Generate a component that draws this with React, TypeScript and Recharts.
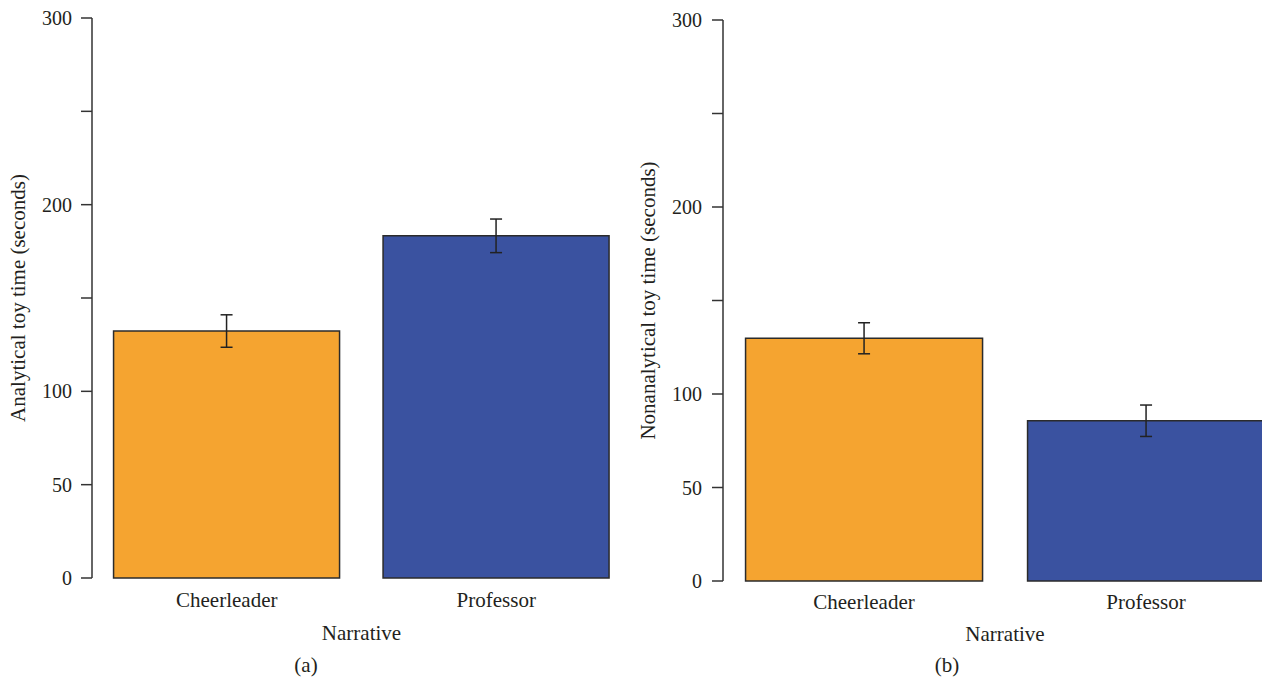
import React from 'react';
import { BarChart, Bar, XAxis, YAxis, ErrorBar, Cell } from 'recharts';

const categories = ['Cheerleader', 'Professor'];
const analyticalMeans = [132.3, 183.3];
const analyticalErrors = [8.7, 9.0];
const nonanalyticalMeans = [129.8, 85.7];
const nonanalyticalErrors = [8.3, 8.4];
const yTicks = [0, 50, 100, 150, 200, 250, 300];
const labelledTicks = [0, 50, 100, 200, 300];
const barColors = ['#F5A430', '#3A52A0'];

const FONT = '"Liberation Serif", "DejaVu Serif", serif';
const TEXT = '#231F20';
const AXIS = '#333333';

const analyticalData = categories.map((c, i) => ({ name: c, value: analyticalMeans[i], err: analyticalErrors[i] }));
const nonanalyticalData = categories.map((c, i) => ({ name: c, value: nonanalyticalMeans[i], err: nonanalyticalErrors[i] }));

const fmt = (v: number) => (labelledTicks.includes(v) ? String(v) : '');

type PanelProps = {
  data: { name: string; value: number; err: number }[];
  width: number;
  margin: { top: number; right: number; left: number; bottom: number };
  yAxisWidth: number;
  yLabel: string;
  yLabelOffset: number;
  tickMarginX: number;
  tickMarginY: number;
  xLabelOffset: number;
};

function Panel(p: PanelProps) {
  return (
    <BarChart width={p.width} height={681} data={p.data} margin={p.margin} barCategoryGap="8%">
      <XAxis
        dataKey="name"
        axisLine={false}
        tickLine={false}
        tickSize={0}
        tickMargin={p.tickMarginX}
        height={40}
        interval={0}
        tick={{ fill: TEXT, fontSize: 21, fontFamily: FONT }}
        label={{ value: 'Narrative', position: 'bottom', offset: p.xLabelOffset, fill: TEXT, fontSize: 21, fontFamily: FONT }}
      />
      <YAxis
        type="number"
        domain={[0, 300]}
        ticks={yTicks}
        interval={0}
        width={p.yAxisWidth}
        tickFormatter={fmt}
        tickSize={11}
        tickMargin={p.tickMarginY}
        axisLine={{ stroke: AXIS, strokeWidth: 1.5 }}
        tickLine={{ stroke: AXIS, strokeWidth: 1.5 }}
        tick={{ fill: TEXT, fontSize: 20, fontFamily: FONT }}
        label={{
          value: p.yLabel,
          angle: -90,
          position: 'insideLeft',
          offset: p.yLabelOffset,
          fill: TEXT,
          fontSize: 21,
          fontFamily: FONT,
          style: { textAnchor: 'middle' },
        }}
      />
      <Bar dataKey="value" stroke="#2b2b2b" strokeWidth={1.5} isAnimationActive={false}>
        {p.data.map((d, i) => (
          <Cell key={d.name} fill={barColors[i]} />
        ))}
        <ErrorBar dataKey="err" width={6} stroke="#222" strokeWidth={1.5} direction="y" />
      </Bar>
    </BarChart>
  );
}

export default function App() {
  return (
    <div
      style={{
        position: 'absolute',
        left: 0,
        top: 0,
        width: 1262,
        height: 681,
        overflow: 'hidden',
        background: '#fff',
      }}
    >
      <div style={{ position: 'absolute', left: 0, top: 0 }}>
        <Panel
          data={analyticalData}
          width={640}
          margin={{ top: 18, right: 9, left: 0, bottom: 63 }}
          yAxisWidth={92}
          yLabel="Analytical toy time (seconds)"
          yLabelOffset={18}
          tickMarginX={14}
          tickMarginY={9}
          xLabelOffset={7}
        />
      </div>
      <div style={{ position: 'absolute', left: 620, top: 0 }}>
        <Panel
          data={nonanalyticalData}
          width={680}
          margin={{ top: 20, right: 13, left: 0, bottom: 60 }}
          yAxisWidth={103}
          yLabel="Nonanalytical toy time (seconds)"
          yLabelOffset={28}
          tickMarginX={13}
          tickMarginY={10}
          xLabelOffset={5}
        />
      </div>
      <svg
        width={1262}
        height={681}
        style={{ position: 'absolute', left: 0, top: 0, pointerEvents: 'none' }}
      >
        <text x={306} y={672} textAnchor="middle" fill={TEXT} fontSize={21} fontFamily={FONT}>
          (a)
        </text>
        <text x={947} y={672} textAnchor="middle" fill={TEXT} fontSize={21} fontFamily={FONT}>
          (b)
        </text>
      </svg>
    </div>
  );
}
